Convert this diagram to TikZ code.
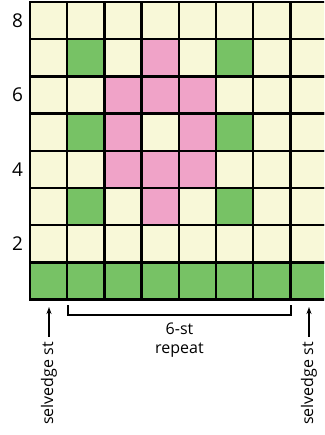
\documentclass[tikz,border=0pt]{standalone}
\usepackage{fontspec}
\setmainfont{Open Sans}
\usetikzlibrary{arrows.meta}
\definecolor{cl0}{RGB}{248,248,216}
\definecolor{cl1}{RGB}{119,194,101}
\definecolor{cl2}{RGB}{240,163,200}
\begin{document}
\begin{tikzpicture}[x=1pt,y=-1pt,
  cell/.style={draw=black, line width=2.4pt, minimum size=37.2pt, inner sep=0pt, outer sep=0pt, anchor=north west},
  rowlbl/.style={font=\fontsize{19}{21}\selectfont, inner sep=0pt},
  lbl/.style={font=\fontsize{16}{19.5}\selectfont, inner sep=0pt},
  arr/.style={line width=1.3pt, -{Stealth[length=7pt,width=5pt]}},
  brk/.style={line width=1.3pt}]
\useasboundingbox (0,0) rectangle (324,435);
\begin{scope}
\clip (0,0) rectangle (324,435);
\foreach \r/\row in {0/{0,0,0,0,0,0,0,0},1/{0,1,0,2,0,1,0,0},2/{0,0,2,2,2,0,0,0},3/{0,1,2,0,2,1,0,0},4/{0,0,2,2,2,0,0,0},5/{0,1,0,2,0,1,0,0},6/{0,0,0,0,0,0,0,0},7/{1,1,1,1,1,1,1,1}}{
  \foreach \k [count=\c from 0] in \row {
    \node[cell, fill=cl\k] (c-\r-\c) at ({30+37.2*\c},{2+37.2*\r}) {};
  }
}
\end{scope}
\node[rowlbl] (r8) at (17.5,20.6) {8};
\node[rowlbl] (r6) at (17.5,95) {6};
\node[rowlbl] (r4) at (17.5,169.4) {4};
\node[rowlbl] (r2) at (17.5,243.8) {2};
% selvedge labels
\node[lbl, rotate=90, anchor=east] (sl) at (49,342) {selvedge st};
\node[lbl, rotate=90, anchor=east] (sr) at (309,342) {selvedge st};
\coordinate (slt) at (49,307);
\coordinate (srt) at (309,307);
\draw[arr, shorten <=5pt] (sl.east) -- (slt);
\draw[arr, shorten <=5pt] (sr.east) -- (srt);
% bracket
\coordinate (b1) at (68,305);
\coordinate (b2) at (68,315);
\coordinate (b3) at (291,315);
\coordinate (b4) at (291,305);
\draw[brk] (b1) -- (b2) -- (b3) -- (b4);
\node[lbl, align=center] (rep) at (179.5,340) {6-st\\repeat};
\end{tikzpicture}
\end{document}
